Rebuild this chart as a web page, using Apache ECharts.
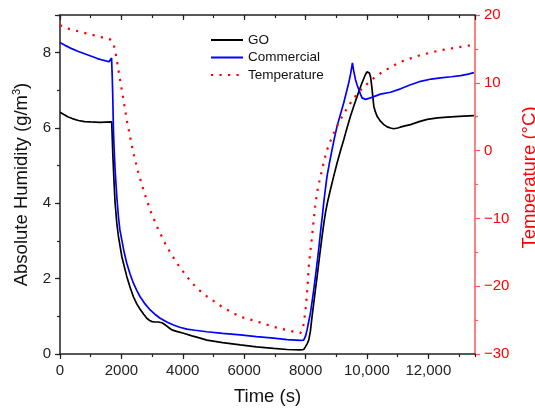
<!DOCTYPE html>
<html>
<head>
<meta charset="utf-8">
<script src="https://cdn.jsdelivr.net/npm/echarts@6/dist/echarts.min.js"></script>
<style>html,body{margin:0;padding:0;background:#fff;}#c{width:535px;height:409px;}</style>
</head>
<body>
<div id="c"></div>
<script>
// ---- data ----
const seriesNames = ['GO', 'Commercial', 'Temperature'];
const goTime = [0,100,250,400,600,800,1000,1300,1685,1719,1762,1795,1850,1903,2013,2100,2175,2280,2392,2500,2610,2720,2828,2920,3000,3100,3200,3318,3400,3481,3560,3644,3800,4024,4300,4568,4785,5300,5873,6400,6960,7400,7830,7940,7994,8050,8103,8157,8211,8266,8320,8375,8429,8483,8538,8592,8646,8720,8809,8920,9027,9140,9244,9350,9462,9570,9680,9760,9840,9951,10000,10037,10080,10114,10140,10168,10195,10223,10270,10331,10440,10549,10660,10767,10875,11000,11200,11420,11700,11964,12300,12616,13000,13485];
const goHum = [6.42,6.37,6.30,6.25,6.20,6.17,6.16,6.15,6.16,5.34,4.54,4.01,3.48,3.12,2.59,2.30,2.06,1.78,1.52,1.33,1.19,1.06,0.95,0.89,0.86,0.85,0.85,0.83,0.79,0.74,0.69,0.64,0.60,0.55,0.48,0.42,0.37,0.30,0.24,0.19,0.15,0.12,0.11,0.12,0.19,0.27,0.37,0.60,0.99,1.35,1.70,2.05,2.41,2.77,3.12,3.45,3.74,4.05,4.36,4.73,5.07,5.40,5.69,6.00,6.31,6.58,6.84,7.02,7.20,7.42,7.49,7.51,7.46,7.37,7.22,7.02,6.80,6.58,6.44,6.31,6.18,6.09,6.03,6.00,5.98,6.00,6.05,6.09,6.17,6.23,6.27,6.29,6.31,6.33];
const comTime = [0,200,400,600,800,1000,1200,1400,1600,1650,1680,1700,1719,1740,1765,1795,1850,1903,1950,2013,2090,2175,2280,2392,2500,2610,2770,2936,3100,3263,3480,3698,3900,4133,4400,4785,5300,5873,6400,6960,7400,7830,7940,8000,8049,8100,8157,8210,8266,8320,8375,8430,8483,8540,8592,8645,8700,8780,8864,8945,9027,9140,9244,9330,9407,9470,9527,9560,9625,9680,9733,9790,9840,9900,9951,10114,10440,10767,11093,11400,11746,12100,12398,12750,13051,13300,13485];
const comHum = [8.27,8.18,8.10,8.03,7.97,7.91,7.85,7.80,7.76,7.75,7.86,7.40,6.84,5.96,5.40,4.89,4.18,3.65,3.30,3.03,2.70,2.41,2.13,1.88,1.69,1.52,1.33,1.17,1.05,0.95,0.85,0.77,0.71,0.66,0.63,0.59,0.55,0.51,0.46,0.42,0.38,0.36,0.37,0.48,0.64,0.85,1.08,1.38,1.70,2.05,2.41,2.80,3.21,3.62,4.01,4.38,4.72,5.08,5.43,5.75,6.05,6.37,6.67,6.95,7.20,7.45,7.73,7.55,7.29,7.14,7.02,6.90,6.80,6.76,6.76,6.80,6.90,6.95,7.04,7.14,7.24,7.30,7.33,7.36,7.39,7.43,7.47];
const tempTime = [0,300,760,1200,1630,1700,1740,1795,1850,1958,2067,2175,2284,2392,2555,2718,2936,3208,3481,3807,4133,4460,4785,5330,5873,6417,6960,7504,7830,7900,7940,8000,8049,8103,8157,8211,8266,8320,8400,8483,8590,8700,8810,8918,9050,9190,9320,9462,9620,9788,10000,10223,10440,10658,11093,11746,12398,13051,13485];
const tempVal = [18.5,17.95,17.4,16.9,16.4,16.1,15.8,14.8,13.4,10.4,7.5,4.5,2.05,-0.4,-3.3,-5.8,-8.8,-11.7,-14.2,-16.6,-18.6,-20.3,-21.5,-23.2,-24.5,-25.2,-26.0,-26.6,-26.9,-26.5,-25.5,-23.5,-21.0,-17.1,-14.8,-12.7,-10.2,-7.8,-5.6,-3.85,-1.8,0.1,1.4,2.55,3.8,5.0,6.0,7.0,8.0,8.9,9.8,10.7,11.4,12.0,13.1,14.1,14.8,15.3,15.6];
const xTicks = [0,2000,4000,6000,8000,10000,12000];
const yLeftTicks = [0,2,4,6,8];
const yRightTicks = [-30,-20,-10,0,10,20];

const zip = (a, b) => a.map((t, i) => [t, b[i]]);
const FONT = '"Liberation Sans", Arial, sans-serif';
const XMAX = 13520;
const fmtX = v => xTicks.indexOf(v) < 0 ? '' : (v >= 10000 ? String(v).replace(/(\d)(?=(\d{3})+$)/g, '$1,') : String(v));
const fmtYL = v => yLeftTicks.indexOf(v) < 0 ? '' : String(v);
const fmtYR = v => yRightTicks.indexOf(v) < 0 ? '' : (v < 0 ? '\u2212' + Math.abs(v) : String(v));

const AX = '#222';
const RED = '#ff0000';
const RAX = '#ff5555';
const chart = echarts.init(document.getElementById('c'), null, {renderer: 'canvas'});
const plainX = (pos, interval, len, inside, line) => ({
  type: 'value', position: pos, min: 0, max: XMAX, interval: interval,
  axisLine: {show: line, onZero: false, lineStyle: {color: AX, width: 1.5}},
  axisTick: {show: true, inside: inside, length: len, lineStyle: {color: AX, width: 1.2}},
  axisLabel: {show: false}, splitLine: {show: false}
});
chart.setOption({
  animation: false,
  textStyle: {fontFamily: FONT},
  grid: {left: 60, right: 60, top: 15, bottom: 55, containLabel: false, outerBoundsMode: 'none'},
  legend: {
    data: seriesNames, orient: 'vertical', left: 210, top: 33, padding: 0,
    itemWidth: 32, itemHeight: 14, itemGap: 3.5,
    itemStyle: {opacity: 0},
    textStyle: {fontSize: 13.5, color: '#111', fontFamily: FONT}
  },
  xAxis: [
    {
      type: 'value', position: 'bottom', min: 0, max: XMAX, interval: 2000,
      axisLine: {show: true, onZero: false, lineStyle: {color: AX, width: 1.5}},
      axisTick: {show: true, inside: false, length: 5, lineStyle: {color: AX, width: 1.2}},
      axisLabel: {margin: 9, fontSize: 15, color: '#222', fontFamily: FONT, formatter: fmtX, showMaxLabel: false},
      splitLine: {show: false},
      name: 'Time (s)', nameLocation: 'middle', nameGap: 33,
      nameTextStyle: {fontSize: 18.5, color: '#111', fontFamily: FONT}
    },
    plainX('bottom', 1000, 3, false, false),
    plainX('top', 2000, 5, true, true),
    plainX('top', 1000, 3, true, false)
  ],
  yAxis: [
    {
      type: 'value', position: 'left', min: 0, max: 9, interval: 2,
      axisLine: {show: true, onZero: false, lineStyle: {color: AX, width: 1.5}},
      axisTick: {show: true, inside: false, length: 5, lineStyle: {color: AX, width: 1.2}},
      axisLabel: {margin: 9, fontSize: 15, color: '#222', fontFamily: FONT, formatter: fmtYL},
      splitLine: {show: false},
      name: '{a|Absolute Humidity (g/m}{s|3}{a|)}', nameLocation: 'middle', nameGap: 22,
      nameTextStyle: {
        color: '#111', fontFamily: FONT,
        rich: {
          a: {fontSize: 18.5, color: '#111', fontFamily: FONT, lineHeight: 22},
          s: {fontSize: 11, color: '#111', fontFamily: FONT, verticalAlign: 'top', lineHeight: 22}
        }
      }
    },
    {
      type: 'value', position: 'left', min: 0, max: 9, interval: 1,
      axisLine: {show: false, onZero: false},
      axisTick: {show: true, inside: false, length: 3, lineStyle: {color: AX, width: 1.2}},
      axisLabel: {show: false}, splitLine: {show: false}
    },
    {
      type: 'value', position: 'right', min: -30, max: 20, interval: 10,
      axisLine: {show: true, onZero: false, lineStyle: {color: RAX, width: 1.5}},
      axisTick: {show: true, inside: false, length: 5, lineStyle: {color: RAX, width: 1.2}},
      minorTick: {show: true, splitNumber: 2, length: 3, lineStyle: {color: RAX, width: 1.2}},
      axisLabel: {margin: 9, fontSize: 15, color: RED, fontFamily: FONT, formatter: fmtYR},
      splitLine: {show: false},
      name: 'Temperature (\u00B0C)', nameLocation: 'middle', nameGap: 42,
      nameTextStyle: {fontSize: 18.5, color: RED, fontFamily: FONT, padding: [0, 0, 0, 14]}
    }
  ],
  series: [
    {
      name: seriesNames[0], type: 'line', xAxisIndex: 0, yAxisIndex: 0, symbol: 'circle', showSymbol: false,
      data: zip(goTime, goHum), lineStyle: {color: '#000', width: 1.7}, itemStyle: {color: '#000'}
    },
    {
      name: seriesNames[1], type: 'line', xAxisIndex: 0, yAxisIndex: 0, symbol: 'circle', showSymbol: false,
      data: zip(comTime, comHum), lineStyle: {color: '#0000ff', width: 1.7}, itemStyle: {color: '#0000ff'}
    },
    {
      name: seriesNames[2], type: 'line', xAxisIndex: 0, yAxisIndex: 2, symbol: 'circle', showSymbol: false,
      data: zip(tempTime, tempVal), lineStyle: {color: RED, width: 2.2, type: [2.2, 6.3]}, itemStyle: {color: RED}
    }
  ]
});
</script>
</body>
</html>
